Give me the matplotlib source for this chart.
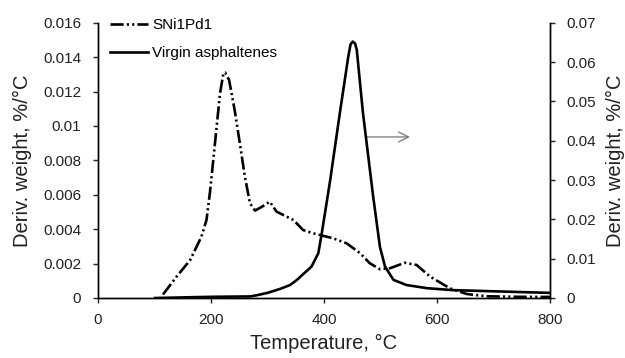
import matplotlib
matplotlib.use("Agg")
import matplotlib.pyplot as plt
from matplotlib.ticker import FuncFormatter, MultipleLocator

plt.rcParams['font.family'] = ['Liberation Sans', 'DejaVu Sans']

# SNi1Pd1 (left axis)
t_sni = [115, 139, 163, 183, 192, 198, 204, 210, 216, 222, 225, 232, 242, 251, 260, 269, 278,
         290, 304, 316, 346, 363, 381, 416, 440, 464, 481, 499, 517, 543, 564, 588, 623, 653,
         688, 740, 800]
v_sni = [0.0002, 0.00124, 0.0022, 0.00356, 0.00453, 0.0061, 0.0080, 0.00996, 0.0119, 0.01307,
         0.0131, 0.01267, 0.0109, 0.0090, 0.00705, 0.0055, 0.00508, 0.0053, 0.0056, 0.00502,
         0.00453, 0.00395, 0.00376, 0.00347, 0.00318, 0.0026, 0.00202, 0.00167, 0.00173,
         0.00205, 0.00192, 0.00124, 0.00056, 0.00023, 0.0001, 0.00007, 0.00006]

# Virgin asphaltenes (right axis)
t_va = [101, 200, 270, 281, 300, 322, 340, 352, 378, 390, 396, 411, 428, 443, 447, 451, 455,
        458, 469, 487, 499, 508, 523, 546, 582, 628, 800]
v_va = [0.0, 0.0003, 0.0004, 0.0007, 0.0013, 0.0023, 0.0033, 0.0046, 0.0080, 0.0114, 0.0164,
        0.030, 0.047, 0.0614, 0.0645, 0.0652, 0.0647, 0.0631, 0.047, 0.0258, 0.0130, 0.0080,
        0.0046, 0.0033, 0.0025, 0.002, 0.0013]

x_ticks = [0, 200, 400, 600, 800]

fig = plt.figure(figsize=(6.25, 3.58), dpi=100)
ax = fig.add_axes([0.1568, 0.1676, 0.7232, 0.769])
ax2 = ax.twinx()

l1, = ax.plot(t_sni, v_sni, color='black', lw=1.9,
              linestyle=(0, (5, 1.2, 0.8, 1.2, 0.8, 1.2)), label='SNi1Pd1')
l2, = ax2.plot(t_va, v_va, color='black', lw=1.9, label='Virgin asphaltenes')

ax.set_xlim(0, 800)
ax.set_ylim(0, 0.016)
ax2.set_ylim(0, 0.07)
ax.set_xticks(x_ticks)
ax.yaxis.set_major_locator(MultipleLocator(0.002))
ax2.yaxis.set_major_locator(MultipleLocator(0.01))
ax.yaxis.set_major_formatter(FuncFormatter(
    lambda v, p: '0' if abs(v) < 1e-12 else ('%.3f' % v).rstrip('0')))
ax2.yaxis.set_major_formatter(FuncFormatter(
    lambda v, p: '0' if abs(v) < 1e-12 else ('%.2f' % v).rstrip('0')))

for a in (ax, ax2):
    a.spines['top'].set_visible(False)
    a.tick_params(direction='out', length=3.6, width=1, labelsize=11, colors='#222222')
    for s in a.spines.values():
        s.set_linewidth(1.0)
ax.tick_params(axis='y', pad=8.5)
ax2.tick_params(axis='y', pad=8.5)
ax.tick_params(axis='x', pad=7)

ax.set_xlabel('Temperature, °C', fontsize=14.5, color='#222222', labelpad=5)
ax.set_ylabel('Deriv. weight, %/°C', fontsize=14.5, color='#222222', labelpad=8)
ax2.set_ylabel('Deriv. weight, %/°C', fontsize=14.5, color='#222222', labelpad=7,
               rotation=90)

ax.annotate('', xy=(557, 0.00936), xytext=(469, 0.00936),
            arrowprops=dict(arrowstyle='->', color='#777777', lw=0.9, mutation_scale=18))

leg = ax.legend(handles=[l1, l2], loc='upper left', bbox_to_anchor=(0.0, 1.062),
                frameon=False, fontsize=11, handlelength=2.5, handletextpad=0.26,
                labelspacing=0.95, borderaxespad=0.4)

fig.savefig('out.png', dpi=100)
